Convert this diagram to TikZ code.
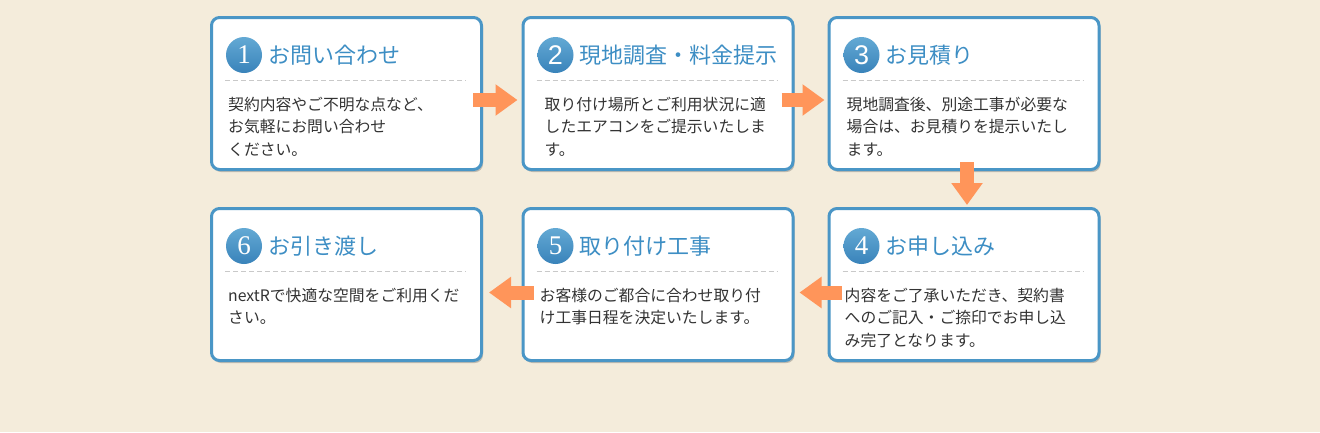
\documentclass[tikz,border=0pt]{standalone}
\usepackage{fontspec}
\setmainfont{Noto Sans CJK JP}
\newfontfamily\numserif{Liberation Serif}
\newfontfamily\numsans{Liberation Sans}
\usepackage{tikz}
\usetikzlibrary{arrows.meta,positioning,shadows}
\definecolor{fbg}{HTML}{F4ECDB}
\definecolor{fblue}{HTML}{4A96C6}
\definecolor{ftitle}{HTML}{3D8EC4}
\definecolor{fnumtop}{HTML}{63A9D4}
\definecolor{fnumbot}{HTML}{3983BA}
\definecolor{fsepc}{HTML}{C9C9C9}
\definecolor{ftext}{HTML}{333333}
\definecolor{forange}{HTML}{FF955A}
\tikzset{
  >={Triangle[length=22pt,width=30pt]},
  fbox/.style={rounded corners=8pt, draw=fblue, fill=white, line width=3pt,
               minimum width=270pt, minimum height=152pt,
               drop shadow={shadow xshift=1.5pt, shadow yshift=-2.5pt,
                            opacity=0.3, fill=black!70}},
  fnum/.style={circle, top color=fnumtop, bottom color=fnumbot, draw=none,
               text=white, minimum size=36pt, inner sep=0pt,
               font=\fontsize{27}{27}\selectfont},
  ftitle/.style={text=ftitle, font=\fontsize{22}{24}\selectfont, inner sep=0pt},
  fsep/.style={fsepc, dash pattern=on 5pt off 3pt, line width=1pt},
  fbody/.style={text=ftext, font=\fontsize{15.8}{22.3}\selectfont,
                anchor=north west, align=left, inner sep=0pt},
  farrow/.style={->, forange, line width=14pt},
}
\begin{document}
\begin{tikzpicture}[x=1pt,y=-1pt]

  \fill[fbg] (0,0) rectangle (1320,432);
  \useasboundingbox (0,0) rectangle (1320,432);

  % upper row
  \node[fbox] (b1) at (346.5,93.5) {};
  \node[fbox] (b2) at (658,93.5) {};
  \node[fbox] (b3) at (964,93.5) {};
  % lower row
  \node[fbox] (b6) at (346.5,284.5) {};
  \node[fbox] (b5) at (658,284.5) {};
  \node[fbox] (b4) at (964,284.5) {};

  \foreach \b in {b1,b2,b3,b4,b5,b6}
    \draw[fsep] ([shift={(15,64)}]\b.north west) -- ([shift={(-17,64)}]\b.north east);

  % step 1
  \node[fnum] (n1) at ([shift={(34,39)}]b1.north west) {\numserif 1};
  \node[ftitle, right=6pt of n1] (t1) {お問い合わせ};
  \node[fbody] (x1) at ([shift={(18,81)}]b1.north west)
       {契約内容やご不明な点など、\\お気軽にお問い合わせ\\ください。};

  % step 2
  \node[fnum] (n2) at ([shift={(34,39)}]b2.north west) {\numsans 2};
  \node[ftitle, right=6pt of n2] (t2) {現地調査・料金提示};
  \node[fbody] (x2) at ([shift={(23,81)}]b2.north west)
       {取り付け場所とご利用状況に適\\したエアコンをご提示いたしま\\す。};

  % step 3
  \node[fnum] (n3) at ([shift={(34,39)}]b3.north west) {\numsans 3};
  \node[ftitle, right=6pt of n3] (t3) {お見積り};
  \node[fbody] (x3) at ([shift={(19,81)}]b3.north west)
       {現地調査後、別途工事が必要な\\場合は、お見積りを提示いたし\\ます。};

  % step 4
  \node[fnum] (n4) at ([shift={(34,39)}]b4.north west) {\numserif 4};
  \node[ftitle, right=6pt of n4] (t4) {お申し込み};
  \node[fbody] (x4) at ([shift={(17,81)}]b4.north west)
       {内容をご了承いただき、契約書\\へのご記入・ご捺印でお申し込\\み完了となります。};

  % step 5
  \node[fnum] (n5) at ([shift={(34,39)}]b5.north west) {\numserif 5};
  \node[ftitle, right=6pt of n5] (t5) {取り付け工事};
  \node[fbody] (x5) at ([shift={(18,81)}]b5.north west)
       {お客様のご都合に合わせ取り付\\け工事日程を決定いたします。};

  % step 6
  \node[fnum] (n6) at ([shift={(34,39)}]b6.north west) {\numserif 6};
  \node[ftitle, right=6pt of n6] (t6) {お引き渡し};
  \node[fbody] (x6) at ([shift={(18,81)}]b6.north west)
       {nextRで快適な空間をご利用くだ\\さい。};

  % flow arrows
  \draw[farrow] ([shift={(-10,6.5)}]b1.east) -- ([shift={(-4,6.5)}]b2.west);
  \draw[farrow] ([shift={(-13,6.5)}]b2.east) -- ([shift={(-3,6.5)}]b3.west);
  \draw[farrow] ([shift={(3,-9)}]b3.south) -- ([shift={(3,-2)}]b4.north);
  \draw[farrow] ([shift={(14,8)}]b4.west) -- ([shift={(5,8)}]b5.east);
  \draw[farrow] ([shift={(12,8)}]b5.west) -- ([shift={(6,8)}]b6.east);

\end{tikzpicture}
\end{document}
